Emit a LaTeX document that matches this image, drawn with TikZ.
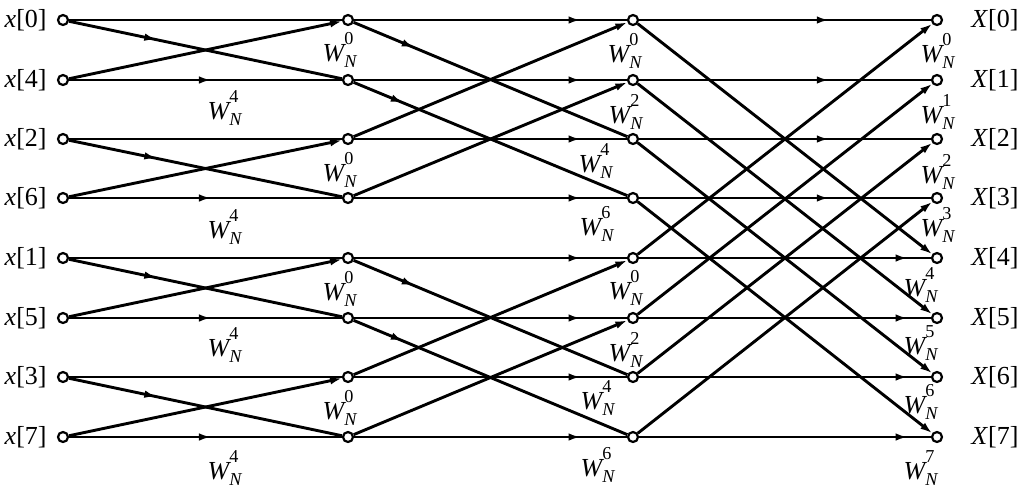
\documentclass[tikz,border=0pt]{standalone}
\usepackage{fontspec}
\usepackage{amsmath}
\setmainfont{Liberation Serif}
\usetikzlibrary{arrows.meta,decorations.markings}
\pgfdeclarelayer{bg}
\pgfsetlayers{bg,main}
\tikzset{
  pt/.style={circle,draw,fill=white,line width=1.1pt,inner sep=0pt,minimum size=5pt},
  wire/.style={line width=1.45pt},
  arrowat/.style={postaction={decorate},decoration={markings,mark=at position #1 with {\arrow{Latex[length=6pt,width=3.8pt]}}}},
  endarrow/.style={-{Latex[length=6pt,width=3.8pt]}},
  wlab/.style={font=\fontsize{13}{15}\selectfont,inner sep=0pt},
  io/.style={font=\fontsize{13}{15}\selectfont,inner sep=0pt},
}
\newcommand{\wfac}[1]{${\textit{W}\rule{0pt}{12pt}}^{\text{#1}}_{\textit{N}}$}
\begin{document}
\begin{tikzpicture}[x=0.5pt,y=-0.5pt]
\useasboundingbox (0,0) rectangle (1024,495);
% nodes
\foreach \y [count=\i from 0] in {20,80,139,198,258,318,377,437} {
  \node[pt] (a\i) at (63,\y) {};
  \node[pt] (b\i) at (348,\y) {};
  \node[pt] (c\i) at (633,\y) {};
  \node[pt] (d\i) at (937,\y) {};
}
% input / output labels
\foreach \k [count=\i from 0] in {0,4,2,6,1,5,3,7} {
  \node[io,anchor=east] (in\i) at ([xshift=-16*0.5pt]a\i.center) {\textit{x}[\k]};
}
\foreach \i in {0,...,7} {
  \node[io,anchor=west] (out\i) at ([xshift=34*0.5pt]d\i.center) {\textit{X}[\i]};
}
\begin{pgfonlayer}{bg}
% stage 1
\foreach \p/\q in {0/1,2/3,4/5,6/7} {
  \draw[wire] (a\p) -- (b\p);
  \draw[wire,arrowat=0.52] (a\q) -- (b\q);
  \draw[wire,arrowat=0.32] (a\p) -- (b\q);
  \draw[wire,endarrow] (a\q) -- (b\p);
}
% stage 2
\foreach \p/\q/\f in {0/2/0.22,1/3/0.18,4/6/0.22,5/7/0.18} {
  \draw[wire,arrowat=0.83] (b\p) -- (c\p);
  \draw[wire,arrowat=0.83] (b\q) -- (c\q);
  \draw[wire,arrowat=\f] (b\p) -- (c\q);
  \draw[wire,endarrow] (b\q) -- (c\p);
}
% stage 3
\foreach \p/\q in {0/4,1/5,2/6,3/7} {
  \draw[wire,arrowat=0.65] (c\p) -- (d\p);
  \draw[wire,arrowat=0.92] (c\q) -- (d\q);
  \draw[wire,endarrow] (c\p) -- (d\q);
  \draw[wire,endarrow] (c\q) -- (d\p);
}
\end{pgfonlayer}
% twiddle factors, stage 1
\node[wlab] (w10) at (340,50) {\wfac{0}};
\node[wlab] (w11) at (225,108) {\wfac{4}};
\node[wlab] (w12) at (340,170) {\wfac{0}};
\node[wlab] (w13) at (225,227) {\wfac{4}};
\node[wlab] (w14) at (340,289) {\wfac{0}};
\node[wlab] (w15) at (225,345) {\wfac{4}};
\node[wlab] (w16) at (340,408) {\wfac{0}};
\node[wlab] (w17) at (225,468) {\wfac{4}};
% stage 2
\node[wlab] (w20) at (625,51) {\wfac{0}};
\node[wlab] (w21) at (626,112) {\wfac{2}};
\node[wlab] (w22) at (596,161) {\wfac{4}};
\node[wlab] (w23) at (597,224) {\wfac{6}};
\node[wlab] (w24) at (626,288) {\wfac{0}};
\node[wlab] (w25) at (626,350) {\wfac{2}};
\node[wlab] (w26) at (598,398) {\wfac{4}};
\node[wlab] (w27) at (598,465) {\wfac{6}};
% stage 3
\node[wlab] (w30) at (938,51) {\wfac{0}};
\node[wlab] (w31) at (938,112) {\wfac{1}};
\node[wlab] (w32) at (938,172) {\wfac{2}};
\node[wlab] (w33) at (938,225) {\wfac{3}};
\node[wlab] (w34) at (921,285) {\wfac{4}};
\node[wlab] (w35) at (921,343) {\wfac{5}};
\node[wlab] (w36) at (921,402) {\wfac{6}};
\node[wlab] (w37) at (921,468) {\wfac{7}};
\end{tikzpicture}
\end{document}
